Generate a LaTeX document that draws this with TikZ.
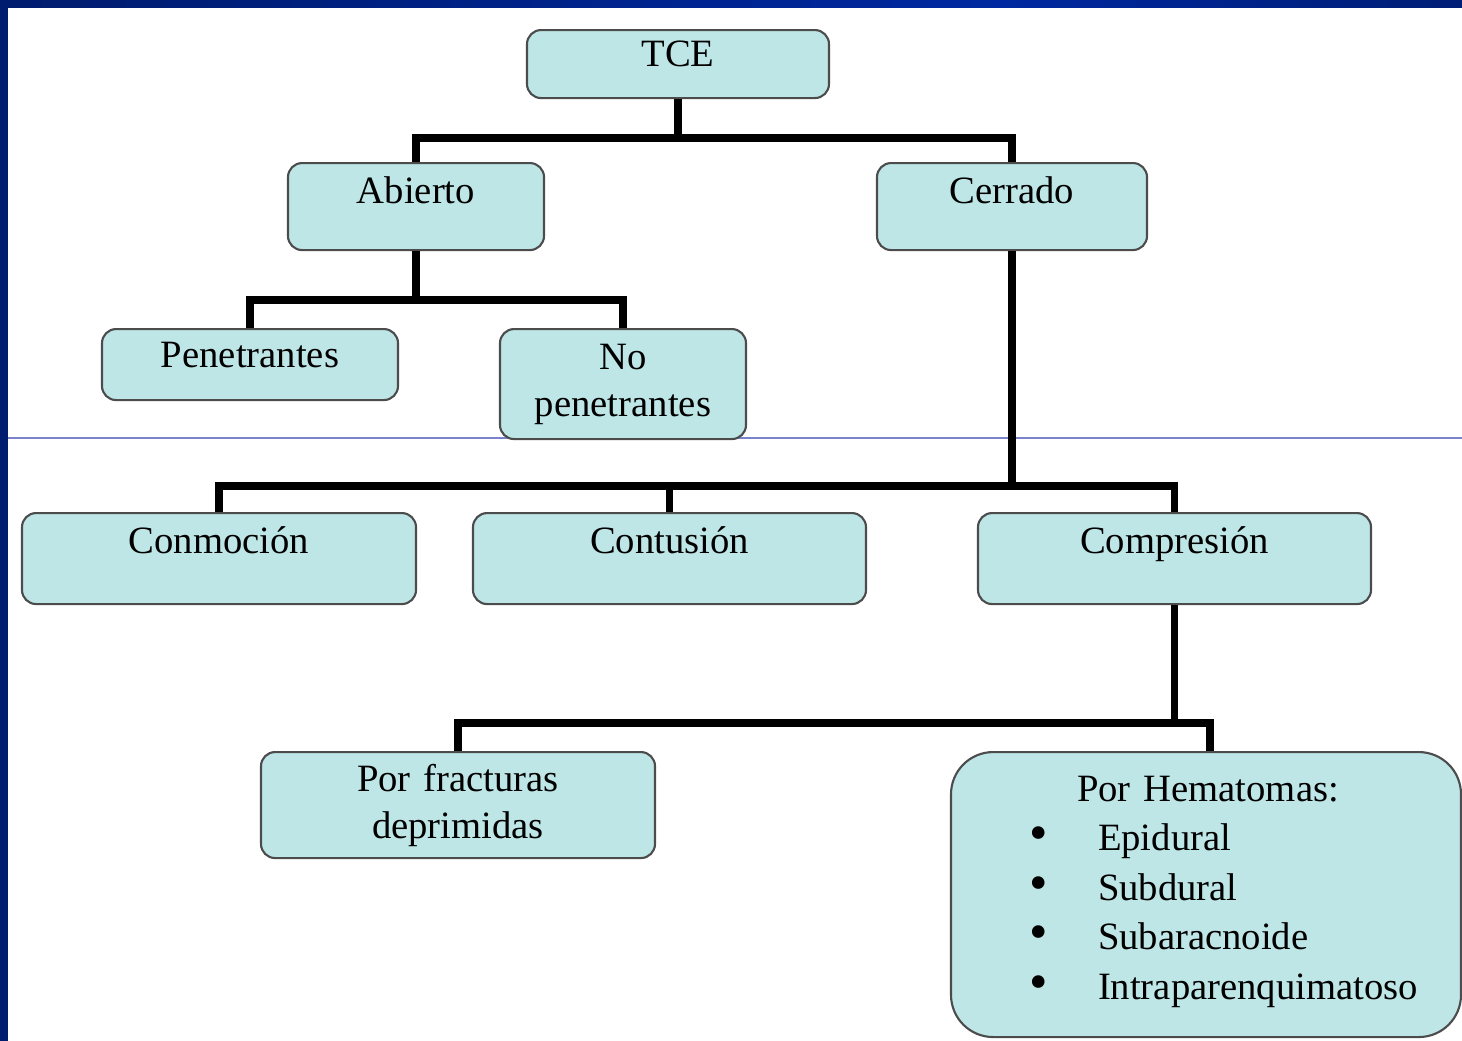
\documentclass[tikz,border=0pt]{standalone}
\usepackage{fontspec}
\setmainfont{Liberation Serif}

\definecolor{boxfill}{RGB}{190,230,231}
\definecolor{navy}{RGB}{0,28,110}
\definecolor{brightblue}{RGB}{0,40,160}
\definecolor{ruleline}{RGB}{120,130,205}

\newcommand{\bul}{\hspace*{7.8mm}\makebox[6.9mm][l]{\fontsize{15}{15}\selectfont\textbullet}}

\tikzset{
  box/.style={draw=black!70, line width=0.6pt, fill=boxfill, rounded corners=4pt,
    inner sep=0pt, align=center, anchor=north, text height=4mm,
    font=\fontsize{11}{13.4}\selectfont},
  link/.style={line width=2.1pt}
}

\begin{document}
\begin{tikzpicture}[x=0.1mm,y=-0.1mm]
  \useasboundingbox (0,0) rectangle (1462,1041);
  % slide frame
  \fill[white] (0,0) rectangle (1462,1041);
  \fill[navy] (0,0) rectangle (8,1041);
  \shade[left color=navy, right color=brightblue] (0,0) rectangle (1000,7);
  \shade[left color=brightblue, right color=navy!85!brightblue] (1000,0) rectangle (1462,7);
  \draw[ruleline, line width=0.3pt] (8,438) -- (1462,438);

  % tree
  \node[box, text width=30.2mm, text height=3.6mm, text depth=3.2mm] (tce) at (678,29) {TCE};
  \node[box, text width=25.6mm, text depth=4.7mm] (abierto) at (416,162) {Abierto};
  \node[box, text width=27.0mm, text depth=4.7mm] (cerrado) at (1012,162) {Cerrado};
  \node[box, text width=29.6mm, text height=3.8mm, text depth=3.3mm] (penet) at (250,328) {Penetrantes};
  \node[box, text width=24.6mm, text depth=7.0mm] (nopenet) at (623,328) {No\\penetrantes};
  \node[box, text width=39.4mm, text depth=5.1mm] (conmocion) at (219,512) {Conmoción};
  \node[box, text width=39.3mm, text depth=5.1mm] (contusion) at (669.5,512) {Contusión};
  \node[box, text width=39.3mm, text depth=5.1mm] (compresion) at (1174.5,512) {Compresión};
  \node[box, text width=39.4mm, text height=3.9mm, text depth=6.7mm] (fracturas) at (458,751) {Por fracturas\\deprimidas};
  \node[box, rounded corners=12pt, text width=51mm, align=left, text height=4.9mm, text depth=23.6mm,
    font=\fontsize{11}{14.1}\selectfont] (hematomas) at (1206,751)
    {\hspace*{12.6mm}Por Hematomas:\\
     \bul Epidural\\
     \bul Subdural\\
     \bul Subaracnoide\\
     \bul Intraparenquimatoso};

  % connectors
  \draw[link] (tce.south) -- ++(0,41);
  \draw[link] (abierto.north) -- ++(0,-24) -| (cerrado.north);
  \draw[link] (abierto.south) -- ++(0,51);
  \draw[link] (penet.north) -- ++(0,-28) -| (nopenet.north);
  \draw[link] (cerrado.south) -- ++(0,237);
  \draw[link] (conmocion.north) -- ++(0,-26) -| (compresion.north);
  \draw[link] (contusion.north) -- ++(0,-26);
  \draw[link] (compresion.south) -- ++(0,120);
  \draw[link] (fracturas.north) -- ++(0,-28) -| ([xshift=0.4mm]hematomas.north);
\end{tikzpicture}
\end{document}
